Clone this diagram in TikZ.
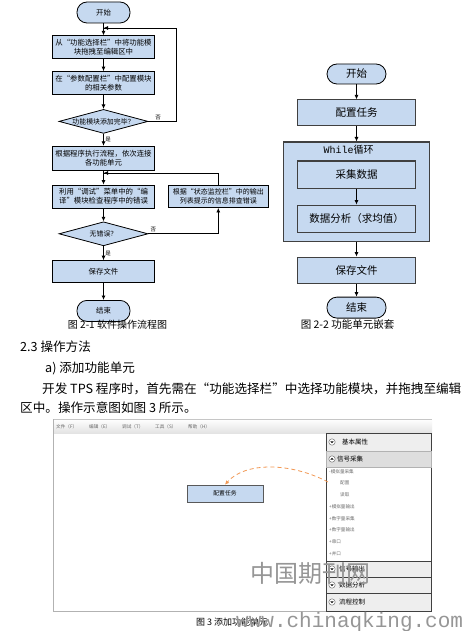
\documentclass[tikz,border=0pt]{standalone}
\usepackage{fontspec}
\setmainfont{Noto Sans CJK SC}
\newfontfamily\wmfont{Liberation Mono}
\usetikzlibrary{arrows.meta,positioning,shapes.geometric}
\definecolor{BoxBlue}{RGB}{198,217,240}
\definecolor{EdgeGray}{RGB}{64,64,64}
\definecolor{DragOrange}{RGB}{242,152,84}
\definecolor{PanelGray}{RGB}{238,238,238}
\definecolor{HeadGray}{RGB}{222,222,222}
\definecolor{MarkGray}{RGB}{150,150,150}
\tikzset{
  terminal/.style={draw=black,fill=BoxBlue,line width=0.8pt,rounded corners=10pt,
    minimum width=53pt,minimum height=21pt,inner sep=0pt,font=\fontsize{7.4}{9}\selectfont},
  stepbox/.style={draw=black,fill=BoxBlue,line width=0.8pt,minimum width=102pt,
    minimum height=23pt,align=center,inner sep=1pt,font=\fontsize{7.4}{9}\selectfont},
  check/.style={diamond,aspect=3.7,draw=black,fill=BoxBlue,line width=0.8pt,minimum width=89pt,
    minimum height=24pt,inner sep=-1pt,font=\fontsize{6.9}{8}\selectfont},
  task/.style={draw=EdgeGray,fill=BoxBlue,line width=1.1pt,minimum width=118pt,
    minimum height=26pt,inner sep=0pt,font=\fontsize{10.5}{12}\selectfont},
  loopbox/.style={draw=EdgeGray,fill=BoxBlue,line width=1.1pt,minimum width=146pt,
    minimum height=99pt,inner sep=0pt},
  arrow/.style={-{Latex[length=4.5pt,width=4pt]},line width=0.8pt},
  edgelabel/.style={font=\fontsize{5.5}{6}\selectfont,inner sep=1.5pt},
  caption/.style={font=\fontsize{10}{12}\selectfont,inner sep=0pt},
  bodytext/.style={font=\fontsize{12.6}{14}\selectfont,inner sep=0pt,anchor=west},
  menuitem/.style={font=\fontsize{4.6}{5}\selectfont,inner sep=0pt,anchor=west,text=gray!80!black},
  headtext/.style={font=\fontsize{6.5}{7}\selectfont,inner sep=0pt,anchor=west},
  listitem/.style={font=\fontsize{4.6}{5}\selectfont,inner sep=0pt,anchor=west,text=gray!85!black},
  dropbox/.style={draw=gray!70!black,fill=BoxBlue,line width=0.7pt,minimum width=76pt,
    minimum height=17pt,inner sep=0pt,font=\fontsize{5.8}{7}\selectfont},
  dragarrow/.style={-{Latex[length=4pt,width=4pt]},DragOrange,line width=0.8pt,dash pattern=on 4pt off 3pt}
}

\begin{document}
\begin{tikzpicture}[x=1pt,y=-1pt]
  \useasboundingbox[fill=white] (0,0) rectangle (475,631);

  % figure 2-1
  \node[terminal] (start) at (103.5,12.5) {开始};
  \node[stepbox,below=12pt of start] (drag) {从“功能选择栏”中将功能模\\块拖拽至编辑区中};
  \node[stepbox,below=12pt of drag] (param) {在“参数配置栏”中配置模块\\的相关参数};
  \node[check,below=14pt of param] (added) {功能模块添加完毕？};
  \node[stepbox,minimum height=24pt,below=12pt of added] (link) {根据程序执行流程，依次连接\\各功能单元};
  \node[stepbox,below=14pt of link] (debug) {利用“调试”菜单中的“编\\译”模块检查程序中的错误};
  \node[stepbox,minimum width=100pt,minimum height=22pt,right=13pt of debug,
    font=\fontsize{7}{8.6}\selectfont] (fix) {根据“状态监控栏”中的输出\\列表提示的信息排查错误};
  \node[check,below=13pt of debug] (noerr) {无错误？};
  \node[stepbox,minimum height=22pt,below=14pt of noerr] (save) {保存文件};
  \node[terminal,below=17pt of save] (stop) {结束};
  \coordinate (join1) at (103.5,28);
  \coordinate (join2) at (103.5,173);
  \draw[arrow] (start) -- (drag);
  \draw[arrow] (drag) -- (param);
  \draw[arrow] (param) -- (added);
  \draw[arrow] (added) -- node[edgelabel,right]{是} (link);
  \draw[line width=0.8pt] (added.east) -- node[edgelabel,above,pos=0.35]{否} (176,0 |- added.east) |- (join1);
  \draw[arrow] (join1) ++(8pt,0) -- (join1);
  \draw[arrow] (link) -- (debug);
  \draw[arrow] (debug) -- (noerr);
  \draw[arrow] (noerr) -- node[edgelabel,right]{是} (save);
  \draw[arrow] (noerr.east) -- node[edgelabel,above,pos=0.07]{否} (noerr.east -| fix.south) -- (fix.south);
  \draw[line width=0.8pt] (fix.north) |- (join2);
  \draw[arrow] (join2) ++(8pt,0) -- (join2);
  \draw[arrow] (save) -- (stop);
  \node[caption] (cap1) at (117.5,325) {图 2-1 软件操作流程图};

  % figure 2-2
  \node[terminal,minimum width=59pt,minimum height=20pt,font=\fontsize{10.5}{12}\selectfont] (start2) at (356.5,74) {开始};
  \node[task,below=15pt of start2] (config) {配置任务};
  \node[loopbox,below=15pt of config] (loop) {};
  \node[inner sep=0pt,below=3pt of loop.north,xshift=-8pt,font=\fontsize{10}{12}\selectfont] (looptitle) {{\wmfont While}循环};
  \node[task,minimum height=27pt,below=19pt of loop.north] (acquire) {采集数据};
  \node[task,minimum height=27pt,below=16pt of acquire] (analyse) {数据分析（求均值）};
  \node[task,below=15pt of loop] (save2) {保存文件};
  \node[terminal,minimum width=59pt,minimum height=21pt,font=\fontsize{10.5}{12}\selectfont,below=13pt of save2] (stop2) {结束};
  \draw[arrow] (start2) -- (config);
  \draw[arrow] (config) -- (loop);
  \draw[arrow] (acquire) -- (analyse);
  \draw[arrow] (loop) -- (save2);
  \draw[arrow] (save2) -- (stop2);
  \node[caption,font=\fontsize{10.5}{12}\selectfont] (cap2) at (347.5,325) {图 2-2 功能单元嵌套};

  % text
  \node[bodytext] (sec) at (20,347) {2.3 操作方法};
  \node[bodytext] (subsec) at (45,368) {a) 添加功能单元};
  \node[bodytext] (para1) at (42,389) {开发 TPS 程序时，首先需在“功能选择栏”中选择功能模块，并拖拽至编辑};
  \node[bodytext] (para2) at (20,408) {区中。操作示意图如图 3 所示。};

  % figure 3 (screenshot)
  \shade[top color=white,bottom color=gray!22] (53,419) rectangle (432,433);
  \draw[gray!45] (53,419) -- (432,419);
  \draw[gray!60,line width=0.8pt] (53,419) -- (53,611) -- (431,611);
  \foreach \mx/\mname in {56/文件（F）,89/编辑（E）,122/调试（T）,155/工具（S）,188/帮助（H）}
    \node[menuitem] at (\mx,427) {\mname};
  \fill[white] (326,467) rectangle (431,561);
  \draw[EdgeGray,line width=0.7pt] (326,433) rectangle (431,611);
  \draw[EdgeGray,fill=PanelGray,line width=0.7pt] (326,433) rectangle (431,451);
  \draw[gray!60,fill=HeadGray] (326,451) rectangle (431,467);
  \foreach \ya/\yb/\headname in {561/577/信号输出,577/593/数据分析,593/611/流程控制}{
    \draw[EdgeGray,fill=PanelGray,line width=0.7pt] (326,\ya) rectangle (431,\yb);
    \draw[gray!70!black,fill=white] (332,{(\ya+\yb)/2}) circle (3.2pt);
    \fill[black] (330.4,{(\ya+\yb)/2-0.6}) -- (333.6,{(\ya+\yb)/2-0.6}) -- (332,{(\ya+\yb)/2+1.2}) -- cycle;
    \node[headtext] at (339,{(\ya+\yb)/2}) {\headname};
  }
  \draw[gray!70!black,fill=white] (332,442) circle (3.2pt);
  \fill[black] (330.4,441.4) -- (333.6,441.4) -- (332,443.2) -- cycle;
  \node[headtext] (basic) at (342,442) {基本属性};
  \draw[gray!70!black,fill=white] (332,459) circle (3.2pt);
  \fill[black] (330.4,459.6) -- (333.6,459.6) -- (332,457.8) -- cycle;
  \node[headtext] (signal) at (337,459) {信号采集};
  \foreach \ly/\lx/\lname in {472/329/-模拟量采集,483/340/配置,495/340/读取,507/329/+模拟量输出,
    519/329/+数字量采集,530/329/+数字量输出,542/329/+串口,554/329/+并口}
    \node[listitem] at (\lx,\ly) {\lname};
  \node[dropbox] (dropped) at (225,493.5) {配置任务};
  \coordinate (dragsrc) at (328,482);
  \draw[dragarrow] (dragsrc) .. controls (290,462) and (245,462) .. (dropped.north);
  \node[inner sep=0pt,anchor=west,font=\fontsize{9}{10}\selectfont] (cap3) at (196,622) {图 3 添加功能单元};

  % watermark
  \node[inner sep=0pt,text=MarkGray,font=\fontsize{24}{26}\selectfont] (mark1) at (310,573) {中国期刊网};
  \node[inner sep=0pt,anchor=west,text=MarkGray,font=\wmfont\fontsize{21}{22}\selectfont] (mark2) at (236,622) {www.chinaqking.com};
\end{tikzpicture}
\end{document}
